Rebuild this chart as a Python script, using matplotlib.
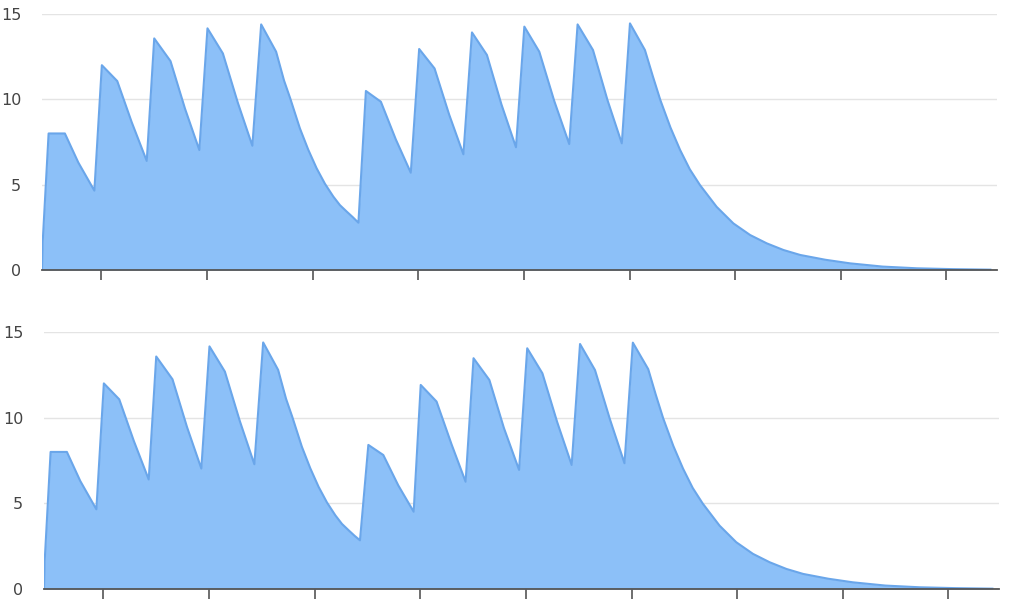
import matplotlib
matplotlib.use("Agg")
import matplotlib.pyplot as plt

# time in hours, concentration values
top_t = [0, 0.15, 1.5, 5.2, 8.25, 11.9, 13.6, 17.1, 20.4, 23.8, 25.5, 29.2, 32.5, 35.75,
         37.6, 41.1, 44.5, 47.8, 49.8, 53.2, 55.0, 56.4, 58.6, 60.5, 62.4, 64.3, 66.2,
         67.7, 69.25, 70.6, 71.9,
         73.6, 77.0, 80.4, 83.8, 85.7, 89.2, 92.5, 95.75, 97.7, 101.1, 104.4, 107.7,
         109.6, 113.0, 116.4, 119.8, 121.7, 125.2, 128.5, 131.75, 133.6, 137.0,
         138.8, 140.5, 142.8, 145.0, 147.2, 149.5, 153.3, 157.1, 160.9, 164.7, 168.5,
         172.3, 178.0, 183.6, 191.0, 198.8, 207.0, 215.5]
top_v = [0.0, 1.6, 8.0, 8.0, 6.3, 4.65, 12.0, 11.07, 8.65, 6.39, 13.57, 12.24, 9.45, 7.03,
         14.16, 12.69, 9.8, 7.28, 14.39, 12.79, 11.1, 10.06, 8.3, 7.05, 5.96, 5.05, 4.3,
         3.8, 3.42, 3.1, 2.77,
         10.49, 9.86, 7.65, 5.7, 12.95, 11.81, 9.12, 6.78, 13.92, 12.6, 9.7, 7.19,
         14.26, 12.79, 9.9, 7.38, 14.39, 12.89, 9.95, 7.42, 14.45, 12.89,
         11.35, 9.96, 8.35, 7.03, 5.9, 4.98, 3.7, 2.73, 2.05, 1.56, 1.17,
         0.88, 0.6, 0.39, 0.2, 0.1, 0.05, 0.02]

bot_t = [0, 0.15, 1.5, 5.2, 8.25, 11.9, 13.6, 17.1, 20.4, 23.8, 25.5, 29.2, 32.5, 35.75,
         37.6, 41.1, 44.5, 47.8, 49.8, 53.2, 55.0, 56.4, 58.6, 60.5, 62.4, 64.3, 66.2,
         67.7, 69.25, 70.6, 71.8,
         73.7, 77.1, 80.5, 84.0, 85.6, 89.2, 92.6, 95.8, 97.6, 101.2, 104.5, 107.95,
         109.8, 113.25, 116.6, 119.9, 121.8, 125.2, 128.6, 131.9, 133.8, 137.3,
         139.0, 140.7, 143.0, 145.2, 147.4, 149.7, 153.5, 157.3, 161.1, 164.9, 168.7,
         172.5, 178.2, 183.8, 191.2, 199.0, 207.2, 215.5]
bot_v = [0.0, 1.6, 8.0, 8.0, 6.3, 4.65, 12.0, 11.07, 8.65, 6.39, 13.57, 12.24, 9.45, 7.03,
         14.16, 12.69, 9.8, 7.28, 14.39, 12.79, 11.1, 10.06, 8.3, 7.05, 5.96, 5.05, 4.3,
         3.8, 3.42, 3.1, 2.84,
         8.41, 7.82, 6.05, 4.51, 11.91, 10.94, 8.45, 6.26, 13.47, 12.2, 9.4, 6.95,
         14.05, 12.59, 9.75, 7.24, 14.3, 12.78, 9.9, 7.34, 14.38, 12.83,
         11.35, 9.96, 8.35, 7.03, 5.9, 4.98, 3.7, 2.73, 2.05, 1.56, 1.17,
         0.88, 0.6, 0.39, 0.2, 0.1, 0.05, 0.02]

x_ticks = [13.5, 37.5, 61.5, 85.5, 109.5, 133.5, 157.5, 181.5, 205.5]
y_ticks = [0, 5, 10, 15]

fill_color = "#8cc0f8"
line_color = "#6aa6ea"

fig = plt.figure(figsize=(10.11, 6.0), dpi=100)
ax1 = fig.add_axes([42 / 1011, 1 - 270 / 600, 955 / 1011, 256 / 600])
ax2 = fig.add_axes([44 / 1011, 1 - 589 / 600, 955 / 1011, 257 / 600])

for ax, t, v in [(ax1, top_t, top_v), (ax2, bot_t, bot_v)]:
    ax.fill_between(t, v, 0, color=fill_color, linewidth=0, zorder=2)
    ax.plot(t, v, color=line_color, linewidth=1.5, zorder=3)
    ax.set_xlim(0, 217)
    ax.set_ylim(0, 15)
    ax.set_yticks(y_ticks)
    ax.set_xticks(x_ticks)
    ax.set_xticklabels([])
    ax.grid(axis="y", color="#e4e4e4", linewidth=1.0, zorder=0)
    ax.set_axisbelow(True)
    for s in ["top", "right", "left"]:
        ax.spines[s].set_visible(False)
    ax.spines["bottom"].set_color("#555555")
    ax.spines["bottom"].set_linewidth(1.3)
    ax.spines["bottom"].set_zorder(4)
    ax.tick_params(axis="y", length=0, pad=15, labelsize=11.5, labelcolor="#444444")
    ax.tick_params(axis="x", length=7, width=1.2, color="#555555", direction="out")

fig.savefig("out.png", dpi=100, facecolor="white")
